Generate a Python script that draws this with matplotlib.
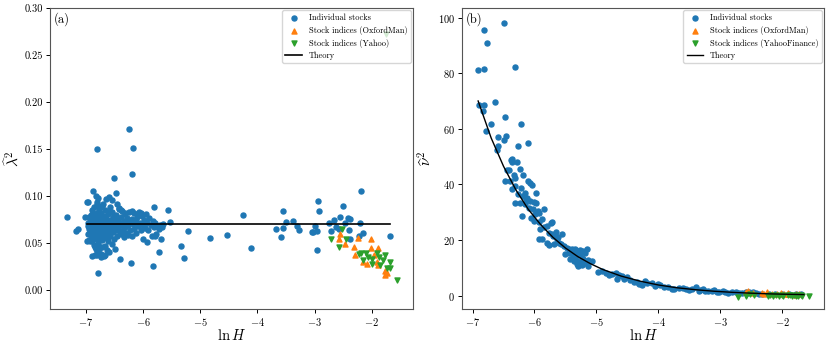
import matplotlib as mpl
mpl.use('Agg')
import matplotlib.pyplot as plt

plt.rcParams['font.family'] = 'serif'
plt.rcParams['font.serif'] = ['cmr10']
plt.rcParams['mathtext.fontset'] = 'cm'
plt.rcParams['axes.formatter.use_mathtext'] = True

# ---- panel (a): lambda^2 vs ln H ----
stock_x_a = [
    -7.33, -7.18, -7.13, -7.02, -6.98, -6.97, -6.87, -6.83, -6.81, -6.80, -6.78, -6.74, -6.70, -6.60, -6.54,
    -6.50, -6.48, -6.45, -6.42, -6.38, -6.32, -6.25, -6.20, -6.19, -6.17, -6.09, -6.03, -5.81, -5.56, -5.53,
    -6.89, -6.80, -6.73, -6.78, -6.84, -6.98, -6.49, -6.41, -6.21, -6.00, -5.94, -5.80, -5.73, -5.68, -5.82,
    -5.33, -5.28, -5.21, -4.83, -4.54, -4.26, -4.12, -3.68, -3.59, -3.56, -3.55, -3.50, -3.38, -3.31, -3.28,
    -3.05, -3.02, -3.00, -2.96, -2.95, -2.92, -2.96, -2.75, -2.72, -2.67, -2.62, -2.55, -2.50, -2.47, -2.40,
    -2.39, -2.41, -2.38, -2.20, -2.19, -2.16, -2.22, -1.69, -2.58,
    -6.97, -6.96, -6.95, -6.94, -6.93, -6.93, -6.92, -6.91, -6.91, -6.90, -6.90, -6.89, -6.89, -6.88, -6.88,
    -6.87, -6.87, -6.86, -6.86, -6.85, -6.85, -6.84, -6.84, -6.83, -6.83, -6.82, -6.82, -6.81, -6.81, -6.80,
    -6.80, -6.79, -6.79, -6.78, -6.78, -6.77, -6.77, -6.76, -6.76, -6.75, -6.75, -6.74, -6.74, -6.73, -6.73,
    -6.72, -6.72, -6.71, -6.71, -6.70, -6.70, -6.69, -6.69, -6.68, -6.68, -6.67, -6.67, -6.66, -6.66, -6.65,
    -6.64, -6.64, -6.63, -6.62, -6.62, -6.61, -6.60, -6.60, -6.59, -6.58, -6.58, -6.57, -6.56, -6.55, -6.55,
    -6.54, -6.53, -6.52, -6.51, -6.50, -6.49, -6.48, -6.47, -6.46, -6.45, -6.44, -6.43, -6.42, -6.41, -6.40,
    -6.39, -6.38, -6.37, -6.36, -6.35, -6.34, -6.33, -6.32, -6.31, -6.30, -6.29, -6.28, -6.27, -6.26, -6.24,
    -6.23, -6.22, -6.20, -6.19, -6.17, -6.16, -6.15, -6.13, -6.12, -6.10, -6.09, -6.07, -6.06, -6.04, -6.02,
    -6.01, -5.99, -5.97, -5.95, -5.93, -5.91, -5.89, -5.87, -5.85, -5.83, -5.81, -5.79, -5.77, -5.75, -5.72,
    -5.70, -5.67, -5.65,
    -6.96, -6.94, -6.92, -6.90, -6.88, -6.87, -6.86, -6.85, -6.84, -6.83, -6.82, -6.81, -6.80, -6.79, -6.78,
    -6.77, -6.76, -6.75, -6.74, -6.73, -6.72, -6.71, -6.70, -6.69, -6.68, -6.67, -6.66, -6.65, -6.64, -6.63,
    -6.62, -6.61, -6.60, -6.59, -6.57, -6.56, -6.54, -6.52, -6.50, -6.48, -6.86, -6.84, -6.80, -6.77, -6.74,
    -6.71, -6.66, -6.63, -6.93, -6.95,
]
stock_y_a = [
    0.078, 0.063, 0.065, 0.078, 0.094, 0.094, 0.106, 0.100, 0.094, 0.150, 0.098, 0.089, 0.092, 0.099, 0.096,
    0.119, 0.103, 0.092, 0.087, 0.085, 0.082, 0.171, 0.084, 0.124, 0.151, 0.081, 0.082, 0.088, 0.085, 0.073,
    0.036, 0.037, 0.037, 0.018, 0.046, 0.052, 0.044, 0.033, 0.029, 0.055, 0.051, 0.058, 0.041, 0.054, 0.026,
    0.047, 0.034, 0.063, 0.056, 0.059, 0.080, 0.045, 0.065, 0.057, 0.066, 0.084, 0.073, 0.074, 0.068, 0.064,
    0.062, 0.062, 0.068, 0.063, 0.095, 0.084, 0.043, 0.071, 0.063, 0.075, 0.067, 0.078, 0.090, 0.072, 0.064,
    0.054, 0.077, 0.076, 0.072, 0.106, 0.061, 0.058, 0.058, 0.065,
    0.068, 0.072, 0.065, 0.070, 0.061, 0.076, 0.067, 0.055, 0.080, 0.063, 0.071, 0.052, 0.085, 0.066, 0.074,
    0.059, 0.078, 0.069, 0.048, 0.088, 0.064, 0.072, 0.057, 0.081, 0.067, 0.044, 0.075, 0.062, 0.092, 0.070,
    0.054, 0.083, 0.066, 0.073, 0.050, 0.060, 0.087, 0.068, 0.077, 0.046, 0.063, 0.071, 0.082, 0.058, 0.039,
    0.067, 0.074, 0.053, 0.090, 0.064, 0.079, 0.069, 0.036, 0.057, 0.072, 0.085, 0.062, 0.047, 0.070, 0.076,
    0.060, 0.097, 0.067, 0.073, 0.052, 0.081, 0.063, 0.041, 0.070, 0.088, 0.058, 0.075, 0.066, 0.083, 0.049,
    0.071, 0.062, 0.078, 0.068, 0.055, 0.073, 0.064, 0.080, 0.069, 0.058, 0.075, 0.066, 0.086, 0.062, 0.071,
    0.078, 0.060, 0.069, 0.084, 0.064, 0.074, 0.057, 0.081, 0.067, 0.072, 0.061, 0.077, 0.069, 0.059, 0.083,
    0.073, 0.064, 0.076, 0.058, 0.070, 0.082, 0.065, 0.074, 0.061, 0.078, 0.068, 0.083, 0.071, 0.064, 0.079,
    0.069, 0.075, 0.066, 0.081, 0.072, 0.064, 0.077, 0.069, 0.058, 0.074, 0.067, 0.071, 0.060, 0.068, 0.065,
    0.069, 0.067, 0.070,
    0.060, 0.078, 0.073, 0.058, 0.082, 0.070, 0.062, 0.076, 0.066, 0.059, 0.070, 0.079, 0.065, 0.058, 0.069,
    0.072, 0.064, 0.075, 0.066, 0.070, 0.061, 0.078, 0.071, 0.075, 0.065, 0.071, 0.078, 0.066, 0.071, 0.056,
    0.083, 0.068, 0.074, 0.062, 0.069, 0.072, 0.065, 0.071, 0.076, 0.068, 0.056, 0.037, 0.040, 0.044, 0.035,
    0.046, 0.037, 0.043, 0.052, 0.053,
]

oxford_x = [-2.55, -2.58, -2.47, -2.32, -2.29, -2.25, -2.16, -2.09, -2.02, -2.02, -1.97, -1.90, -1.91, -1.90,
            -1.77, -1.77, -1.73]
oxford_y_a = [0.060, 0.055, 0.049, 0.046, 0.037, 0.056, 0.030, 0.028, 0.055, 0.045, 0.037, 0.045, 0.030,
              0.027, 0.021, 0.016, 0.018]

yahoo_x = [-2.71, -2.58, -2.52, -2.45, -2.23, -2.19, -2.15, -2.10, -2.06, -2.00, -1.99, -1.91, -1.88, -1.85,
           -1.81, -1.77, -1.74, -1.69, -1.68, -1.56, -1.75]
yahoo_y_a = [0.054, 0.046, 0.065, 0.055, 0.039, 0.040, 0.032, 0.040, 0.035, 0.033, 0.028, 0.040, 0.035,
             0.027, 0.032, 0.037, 0.024, 0.030, 0.024, 0.011, 0.272]

theory_x_a = [-6.98, -1.68]
theory_y_a = [0.07, 0.07]

# ---- panel (b): nu^2 vs ln H ----
stock_x_b = [
    -6.91, -6.81, -6.82, -6.76, -6.49, -6.31, -6.64, -6.90, -6.81, -6.83, -6.71, -6.78, -6.48, -6.22, -6.59,
    -6.46, -6.49, -6.59, -6.27, -6.10, -6.60, -6.37,
    -6.38, -6.36, -6.28, -6.24, -6.45, -6.41, -6.33, -6.18, -6.47, -6.39, -6.31, -6.10, -6.07, -6.04, -6.31,
    -6.36, -6.15, -5.98, -6.26, -6.18, -6.12, -6.31, -6.23, -6.15, -6.07, -6.01, -5.98, -6.09, -6.03, -6.20,
    -6.05, -5.99, -5.92, -5.84, -5.88, -5.93, -5.91, -5.80, -5.74, -5.72, -5.92, -5.88, -5.77, -5.72, -5.66,
    -5.56, -5.64, -5.61, -5.80, -5.77, -5.69, -5.53, -5.48, -5.45, -5.39, -5.34, -5.30, -5.26, -5.21, -5.15,
    -5.45, -5.38, -5.34, -5.29, -5.23, -5.31, -5.26, -5.21, -5.18, -5.37, -5.29, -5.23, -5.14, -5.07, -5.13,
    -4.97, -4.91, -4.75, -4.68, -4.63, -4.59, -4.67, -4.56, -4.40, -4.32, -4.21, -4.18, -4.26, -3.97, -3.91,
    -3.78, -3.67, -3.56, -3.40, -3.32, -3.24, -3.13, -3.02, -2.92, -2.81, -2.70, -2.59, -2.54, -2.43, -2.32,
    -2.22, -2.11, -2.00, -1.89, -1.78, -1.70,
    -3.85, -3.75, -3.60, -3.50, -3.45, -3.35, -3.28, -3.20, -3.10, -3.05, -2.95, -2.88, -2.75, -2.65, -2.55,
    -2.48, -2.38, -4.85, -4.80, -4.50, -4.45, -4.35, -4.10, -4.05, -4.00,
    -5.50, -5.42, -5.36, -5.32, -5.27, -5.24, -5.19, -5.58, -5.62, -5.70, -5.85, -5.95, -6.00, -6.13, -6.21,
]
stock_y_b = [
    81.2, 81.6, 95.6, 90.7, 98.2, 82.1, 69.7, 68.4, 68.4, 66.5, 61.7, 59.3, 64.2, 61.7, 57.2,
    57.3, 56.1, 53.9, 53.9, 54.9, 52.5, 49.2,
    48.7, 48.0, 48.0, 45.6, 45.3, 45.1, 43.5, 43.2, 41.1, 41.1, 42.3, 41.1, 40.5, 39.6, 39.4,
    38.2, 37.0, 37.0, 36.4, 35.8, 35.2, 33.4, 33.4, 32.8, 34.0, 33.6, 33.4, 31.6, 31.0, 28.6,
    28.0, 29.2, 29.8, 31.2, 27.4, 26.4, 23.8, 25.0, 26.2, 26.4, 20.5, 20.2, 22.6, 22.0, 22.8,
    22.0, 20.2, 19.0, 19.0, 18.1, 18.4, 17.8, 17.2, 16.9, 16.6, 16.9, 16.0, 16.4, 16.0, 16.6,
    15.4, 14.2, 13.6, 14.5, 13.6, 12.4, 11.8, 13.0, 11.8, 12.4, 10.6, 10.9, 12.8, 12.4, 10.6,
    8.5, 8.9, 7.7, 8.0, 7.3, 7.1, 5.9, 6.1, 4.7, 4.1, 5.3, 4.4, 3.7, 3.7, 3.2,
    2.5, 2.8, 2.3, 3.1, 2.0, 1.8, 1.6, 1.4, 1.3, 1.1, 1.0, 1.1, 1.3, 0.8, 0.7,
    0.6, 0.6, 0.5, 0.5, 0.4, 0.4,
    3.0, 2.2, 2.6, 1.9, 2.4, 1.7, 2.3, 1.5, 1.9, 1.2, 1.6, 0.9, 1.3, 0.8, 0.9,
    1.2, 0.6, 8.0, 7.3, 6.6, 5.5, 5.0, 4.5, 3.6, 4.2,
    14.8, 13.2, 15.8, 11.5, 14.9, 12.2, 15.2, 18.5, 21.0, 21.5, 24.5, 30.5, 26.8, 34.8, 38.6,
]

oxford_y_b = [1.6, 1.2, 1.0, 0.9, 0.7, 1.1, 0.6, 0.5, 0.9, 0.7, 0.6, 0.8, 0.5, 0.4, 0.5, 0.3, 0.4]
yahoo_y_b = [-0.4, 0.0, 0.6, 0.2, -0.2, 0.3, 0.0, 0.1, -0.1, 0.2, 0.0, 0.3, 0.1, -0.2, 0.2, 0.0, -0.1,
             0.2, 0.0, -0.3, 0.1]

theory_x_b = [-6.91, -6.7, -6.5, -6.3, -6.1, -5.9, -5.7, -5.5, -5.3, -5.1, -4.9, -4.6, -4.3, -4.0,
              -3.7, -3.4, -3.1, -2.8, -2.5, -2.2, -1.9, -1.65]
theory_y_b = [70.0, 56.7, 46.5, 38.0, 31.0, 25.5, 20.9, 17.1, 14.0, 11.5, 9.4, 7.0, 5.2, 3.8,
              2.8, 2.1, 1.55, 1.15, 0.85, 0.6, 0.45, 0.35]

fig = plt.figure(figsize=(8.31, 3.42), dpi=100)
ax1 = fig.add_axes([0.060, 0.096, 0.437, 0.881])
ax2 = fig.add_axes([0.556, 0.096, 0.436, 0.881])

ms = 13
ax1.scatter(stock_x_a, stock_y_a, s=ms, color='tab:blue', label='Individual stocks', zorder=2)
ax1.scatter(oxford_x, oxford_y_a, s=ms, marker='^', color='tab:orange', label='Stock indices (OxfordMan)', zorder=3)
ax1.scatter(yahoo_x, yahoo_y_a, s=ms, marker='v', color='tab:green', label='Stock indices (Yahoo)', zorder=3)
ax1.plot(theory_x_a, theory_y_a, color='black', lw=1.2, label='Theory', zorder=4)
ax1.set_xlim(-7.63, -1.28)
ax1.set_ylim(-0.02, 0.30)
ax1.set_xticks([-7, -6, -5, -4, -3, -2])
ax1.set_yticks([0.0, 0.05, 0.10, 0.15, 0.20, 0.25, 0.30])
ax1.set_yticklabels(['0.00', '0.05', '0.10', '0.15', '0.20', '0.25', '0.30'])
ax1.set_xlabel(r'$\ln H$', fontsize=10.5, labelpad=0)
ax1.set_ylabel(r'$\widehat{\lambda}^2$', fontsize=11, labelpad=2)
ax1.text(0.01, 0.985, '(a)', transform=ax1.transAxes, ha='left', va='top', fontsize=9)

ax2.scatter(stock_x_b, stock_y_b, s=ms, color='tab:blue', label='Individual stocks', zorder=2)
ax2.scatter(oxford_x, oxford_y_b, s=ms, marker='^', color='tab:orange', label='Stock indices (OxfordMan)', zorder=3)
ax2.scatter(yahoo_x, yahoo_y_b, s=ms, marker='v', color='tab:green', label='Stock indices (YahooFinance)', zorder=3)
ax2.plot(theory_x_b, theory_y_b, color='black', lw=1.0, label='Theory', zorder=4)
ax2.set_xlim(-7.17, -1.32)
ax2.set_ylim(-4.9, 103.5)
ax2.set_xticks([-7, -6, -5, -4, -3, -2])
ax2.set_yticks([0, 20, 40, 60, 80, 100])
ax2.set_xlabel(r'$\ln H$', fontsize=10.5, labelpad=0)
ax2.set_ylabel(r'$\widehat{\nu}^2$', fontsize=11, labelpad=2)
ax2.text(0.01, 0.985, '(b)', transform=ax2.transAxes, ha='left', va='top', fontsize=9)

for ax in (ax1, ax2):
    ax.tick_params(labelsize=7.5, length=3, width=0.7, pad=2)
    for sp in ax.spines.values():
        sp.set_color('#555555')
    ax.legend(loc='upper right', fontsize=6, borderaxespad=0.3, handletextpad=0.8,
              labelspacing=0.45, framealpha=0.8)

fig.savefig('out.png', dpi=100)
